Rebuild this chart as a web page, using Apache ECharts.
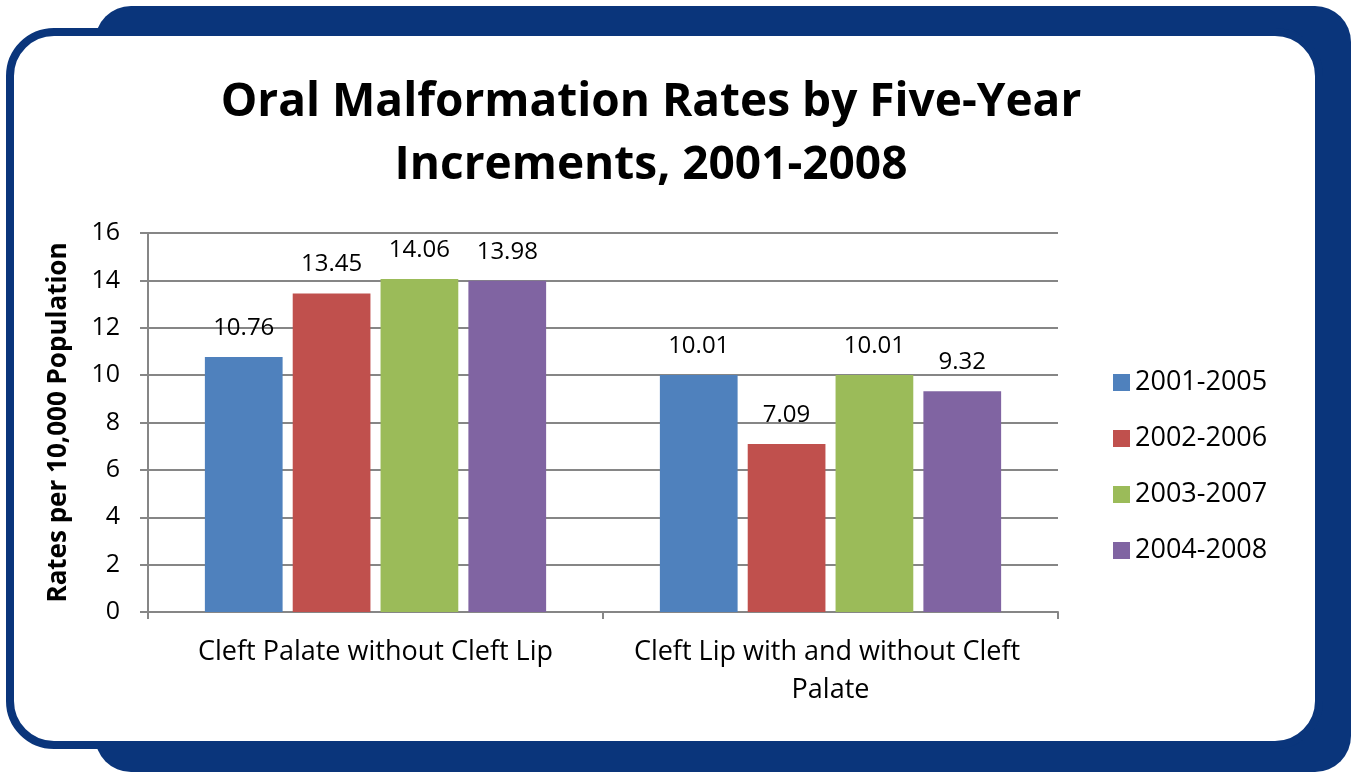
<!DOCTYPE html>
<html>
<head>
<meta charset="utf-8">
<script src="https://cdn.jsdelivr.net/npm/echarts@6/dist/echarts.min.js"></script>
<style>
html,body{margin:0;padding:0;background:#fff;}
#chart{width:1353px;height:773px;}
</style>
</head>
<body>
<div id="chart"></div>
<script>
var categories = ['Cleft Palate without Cleft Lip', 'Cleft Lip with and without Cleft Palate'];
var seriesNames = ['2001-2005', '2002-2006', '2003-2007', '2004-2008'];
var s2001_2005 = [10.76, 10.01];
var s2002_2006 = [13.45, 7.09];
var s2003_2007 = [14.06, 10.01];
var s2004_2008 = [13.98, 9.32];
var seriesValues = [s2001_2005, s2002_2006, s2003_2007, s2004_2008];
var colors = ['#4F81BD', '#C0504D', '#9BBB59', '#8064A2'];
var titleText = 'Oral Malformation Rates by Five-Year\nIncrements, 2001-2008';
var yAxisName = 'Rates per 10,000 Population';

var FONT = 'Open Sans';
var FRAME = '#0A357B';

var chart = echarts.init(document.getElementById('chart'), null, {renderer: 'canvas'});

var series = seriesNames.map(function (name, i) {
  return {
    name: name,
    type: 'bar',
    data: seriesValues[i],
    itemStyle: {color: colors[i]},
    barGap: '13%',
    barCategoryGap: '25%',
    label: {
      show: true,
      position: 'top',
      distance: 17,
      color: '#000',
      fontFamily: FONT,
      fontSize: 24,
      formatter: function (p) { return p.value.toFixed(2); }
    }
  };
});

chart.setOption({
  animation: false,
  backgroundColor: '#fff',
  textStyle: {fontFamily: FONT},
  graphic: [
    {type: 'rect', z: -100, silent: true, shape: {x: 95, y: 6, width: 1256, height: 766, r: 36}, style: {fill: FRAME}},
    {type: 'rect', z: -99, silent: true, shape: {x: 10, y: 32, width: 1309, height: 713, r: 44}, style: {fill: '#fff', stroke: FRAME, lineWidth: 8}}
  ],
  title: {
    text: titleText,
    left: 646,
    top: 66,
    textAlign: 'center',
    textStyle: {fontFamily: FONT, fontWeight: 'bold', fontSize: 46, lineHeight: 63, color: '#000'}
  },
  legend: {
    orient: 'vertical',
    left: 1108,
    top: 364,
    itemWidth: 17,
    itemHeight: 17,
    itemGap: 29,
    icon: 'rect',
    data: seriesNames,
    textStyle: {fontFamily: FONT, fontSize: 27, color: '#000', lineHeight: 27}
  },
  grid: {left: 148, right: 295, top: 233, bottom: 161, containLabel: false},
  xAxis: {
    type: 'category',
    data: categories,
    axisLine: {lineStyle: {color: '#868686', width: 2}},
    axisTick: {show: true, length: 7, lineStyle: {color: '#868686', width: 2}},
    axisLabel: {
      interval: 0,
      color: '#000',
      fontFamily: FONT,
      fontSize: 27,
      lineHeight: 38,
      margin: 21,
      width: 420,
      overflow: 'break'
    }
  },
  yAxis: {
    type: 'value',
    min: 0,
    max: 16,
    interval: 2,
    name: yAxisName,
    nameLocation: 'middle',
    nameGap: 76,
    nameRotate: 90,
    nameTextStyle: {fontFamily: FONT, fontWeight: 'bold', fontSize: 26, color: '#000'},
    axisLine: {show: true, lineStyle: {color: '#868686', width: 2}},
    axisTick: {show: true, length: 8, lineStyle: {color: '#868686', width: 2}},
    splitLine: {show: true, lineStyle: {color: '#868686', width: 2}},
    axisLabel: {color: '#000', fontFamily: FONT, fontSize: 25, margin: 28}
  },
  series: series
});
</script>
</body>
</html>
